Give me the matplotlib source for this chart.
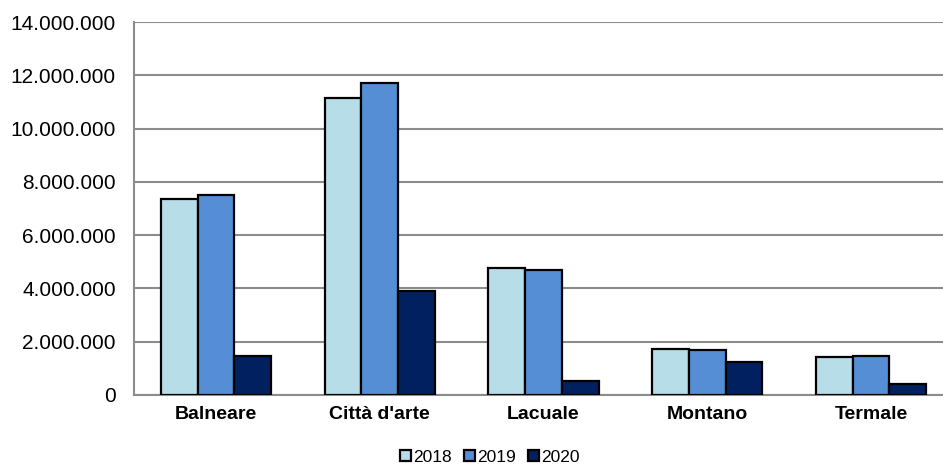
# Presenze per tipologia di comune 2018-2020

import numpy as np
import matplotlib.pyplot as plt
import matplotlib.ticker as ticker

plt.rcParams['font.family'] = ['Liberation Sans', 'DejaVu Sans']

categorie = ['Balneare', "Città d'arte", 'Lacuale', 'Montano', 'Termale']
anni = ['2018', '2019', '2020']
v2018 = [7360000, 11150000, 4780000, 1730000, 1440000]
v2019 = [7500000, 11710000, 4690000, 1690000, 1470000]
v2020 = [1460000, 3900000, 530000, 1240000, 420000]
colori = ['#b7dde8', '#558ed5', '#002060']

if __name__ == '__main__':
	fig = plt.figure(figsize=(9.43, 4.75), dpi=100)
	ax = fig.add_axes([134/943, 80/475, 819/943, 373/475])

	x = np.arange(len(categorie))
	w = 0.224
	serie = [v2018, v2019, v2020]
	for i, (vals, lab, col) in enumerate(zip(serie, anni, colori)):
		ax.bar(x + (i - 1) * w, vals, w, color=col, edgecolor='black',
			linewidth=1.6, label=lab, zorder=3)

	ax.set_xlim(-0.5, len(categorie) - 0.5)
	ax.set_ylim(0, 14000000)
	ax.yaxis.set_major_locator(ticker.MultipleLocator(2000000))
	ax.yaxis.set_major_formatter(ticker.FuncFormatter(
		lambda v, p: f"{int(v):,}".replace(',', '.')))
	ax.set_xticks(x)
	ax.set_xticklabels(categorie, fontsize=14, fontweight='bold')
	ax.tick_params(axis='y', labelsize=15, length=0, pad=13)
	ax.tick_params(axis='x', length=0, pad=8)
	ax.grid(axis='y', color='#8c8c8c', linewidth=1.5, zorder=0)

	for s in ['top', 'right']:
		ax.spines[s].set_visible(False)
	for s in ['left', 'bottom']:
		ax.spines[s].set_color('#8c8c8c')
		ax.spines[s].set_linewidth(1.5)

	fig.legend(loc='lower center', bbox_to_anchor=(490/943, -0.012), ncol=3,
		frameon=False, fontsize=12.5, handlelength=0.6, handleheight=0.6,
		handletextpad=0.15, columnspacing=0.7)

	plt.savefig('out.png', dpi=100)
